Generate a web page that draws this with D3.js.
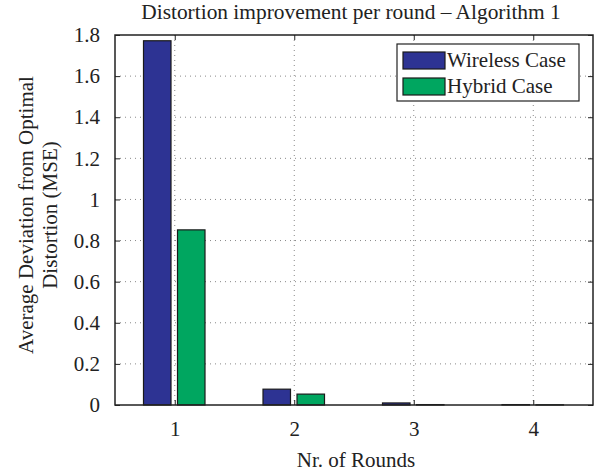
<!DOCTYPE html>
<html>
<head>
<meta charset="utf-8">
<script src="https://cdn.jsdelivr.net/npm/d3@7"></script>
<style>
  body { margin: 0; background: #fff; }
  text { font-family: "Liberation Serif", "Times New Roman", serif; fill: #222; }
</style>
</head>
<body>
<div id="chart"></div>
<script>
// Data
var rounds = [1, 2, 3, 4];
var wireless = [1.772, 0.077, 0.010, 0.002];
var hybrid = [0.852, 0.053, 0.002, 0.001];
var seriesNames = ["Wireless Case", "Hybrid Case"];
var seriesColors = ["#2d3393", "#00a660"];
var yTicks = [0, 0.2, 0.4, 0.6, 0.8, 1, 1.2, 1.4, 1.6, 1.8];

var svgWidth = 600;
var svgHeight = 474;
var margin = { top: 35, right: 7, bottom: 69, left: 115 };
var width = svgWidth - margin.left - margin.right;
var height = svgHeight - margin.top - margin.bottom;
var fontSize = "21px";

var svg = d3.select("#chart").append("svg")
  .attr("width", svgWidth)
  .attr("height", svgHeight);

var chartGroup = svg.append("g")
  .attr("transform", `translate(${margin.left}, ${margin.top})`);

// Scales
var xScale = d3.scaleLinear().domain([0.5, 4.5]).range([0, width]);
var yScale = d3.scaleLinear().domain([0, 1.8]).range([height, 0]);

// Grid lines (dotted)
chartGroup.append("g").selectAll("line")
  .data(yTicks.slice(1, -1)).enter().append("line")
  .attr("x1", 0).attr("x2", width)
  .attr("y1", d => yScale(d)).attr("y2", d => yScale(d))
  .attr("stroke", "#888").attr("stroke-width", 1)
  .attr("stroke-dasharray", "1,4");

chartGroup.append("g").selectAll("line")
  .data(rounds).enter().append("line")
  .attr("x1", d => xScale(d)).attr("x2", d => xScale(d))
  .attr("y1", 0).attr("y2", height)
  .attr("stroke", "#888").attr("stroke-width", 1)
  .attr("stroke-dasharray", "1,4");

// Bars
var barWidth = 27.5;
var offsets = [-17.5, 16.5];
var allSeries = [wireless, hybrid];
allSeries.forEach(function(values, s) {
  chartGroup.append("g").selectAll("rect")
    .data(values).enter().append("rect")
    .attr("x", (d, i) => xScale(rounds[i]) + offsets[s] - barWidth / 2)
    .attr("y", d => yScale(d))
    .attr("width", barWidth)
    .attr("height", d => height - yScale(d))
    .attr("fill", seriesColors[s])
    .attr("stroke", "#1a1a1a")
    .attr("stroke-width", 1.2);
});

// Axes, ticks inward (matlab style)
var bottomAxis = d3.axisBottom(xScale).tickValues(rounds).tickSize(-5).tickPadding(16).tickFormat(d3.format("d"));
var topAxis = d3.axisTop(xScale).tickValues(rounds).tickSize(-5).tickFormat("");
var leftAxis = d3.axisLeft(yScale).tickValues(yTicks).tickSize(-5).tickPadding(15).tickFormat(d => d3.format("")(d));
var rightAxis = d3.axisRight(yScale).tickValues(yTicks).tickSize(-5).tickFormat("");

function styleAxis(g) {
  g.select(".domain").remove();
  g.selectAll(".tick line").attr("stroke", "#222");
  g.selectAll("text").attr("font-size", fontSize).attr("fill", "#222")
    .attr("font-family", "Liberation Serif, serif");
}

chartGroup.append("g").attr("transform", `translate(0, ${height})`).call(bottomAxis).call(styleAxis);
chartGroup.append("g").call(topAxis).call(styleAxis);
chartGroup.append("g").call(leftAxis).call(styleAxis);
chartGroup.append("g").attr("transform", `translate(${width}, 0)`).call(rightAxis).call(styleAxis);

// Frame
chartGroup.append("rect")
  .attr("width", width).attr("height", height)
  .attr("fill", "none").attr("stroke", "#222").attr("stroke-width", 1.5);

// Legend
var legend = chartGroup.append("g").attr("transform", `translate(${397 - margin.left}, ${44 - margin.top})`);
legend.append("rect")
  .attr("width", 182).attr("height", 57)
  .attr("fill", "#fff").attr("stroke", "#222").attr("stroke-width", 1.2);
seriesNames.forEach(function(name, i) {
  legend.append("rect")
    .attr("x", 6).attr("y", 8 + i * 26)
    .attr("width", 42).attr("height", 17)
    .attr("fill", seriesColors[i]).attr("stroke", "#1a1a1a").attr("stroke-width", 1.2);
  legend.append("text")
    .attr("x", 50).attr("y", 23 + i * 25.5)
    .attr("font-size", fontSize)
    .text(name);
});

// Title and labels
svg.append("text")
  .attr("x", 351).attr("y", 19)
  .attr("text-anchor", "middle").attr("font-size", "21.4px")
  .text("Distortion improvement per round \u2013 Algorithm 1");

svg.append("text")
  .attr("x", 356).attr("y", 467)
  .attr("text-anchor", "middle").attr("font-size", fontSize)
  .text("Nr. of Rounds");

var yLabel = svg.append("text")
  .attr("transform", "translate(0, 215) rotate(-90)")
  .attr("text-anchor", "middle").attr("font-size", fontSize);
yLabel.append("tspan").attr("x", 0).attr("y", 33).text("Average Deviation from Optimal");
yLabel.append("tspan").attr("x", 0).attr("y", 57).text("Distortion (MSE)");
</script>
</body>
</html>
